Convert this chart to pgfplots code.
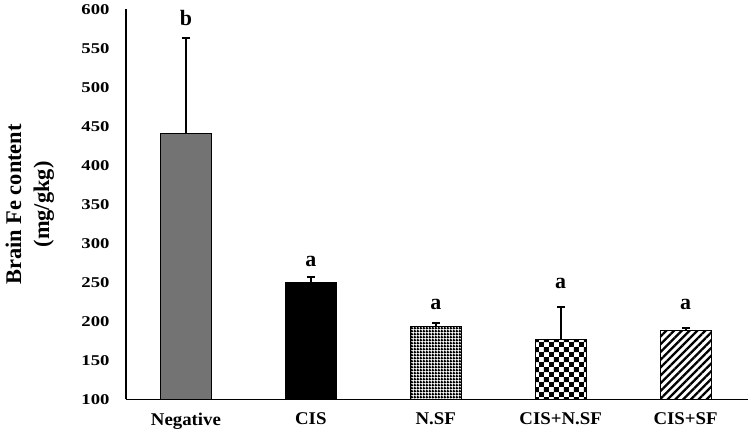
\documentclass[border=0pt]{standalone}
\usepackage{fontspec}
\setmainfont{Liberation Serif}
\newfontface\ytf{Liberation Serif Bold}[FakeStretch=1.25]
\newfontface\xtf{Liberation Serif Bold}[FakeStretch=1.05]
\newfontface\lbf{Liberation Serif Bold}
\usepackage{pgfplots}
\pgfplotsset{compat=1.18}
\usetikzlibrary{patterns,patterns.meta}
\definecolor{bargray}{RGB}{115,115,115}

\pgfdeclarepatternformonly{finecheck}{\pgfpointorigin}{\pgfpoint{2.6bp}{2.6bp}}{\pgfpoint{2.6bp}{2.6bp}}{%
  \pgfpathrectangle{\pgfpointorigin}{\pgfpoint{2.6bp}{1.5bp}}%
  \pgfpathrectangle{\pgfpoint{0bp}{1.5bp}}{\pgfpoint{1.5bp}{1.1bp}}%
  \pgfusepath{fill}}
\pgfdeclarepatternformonly{coarsecheck}{\pgfpointorigin}{\pgfpoint{10bp}{10bp}}{\pgfpoint{10bp}{10bp}}{%
  \pgfpathrectangle{\pgfpointorigin}{\pgfpoint{5bp}{5bp}}%
  \pgfpathrectangle{\pgfpoint{5bp}{5bp}}{\pgfpoint{5bp}{5bp}}%
  \pgfusepath{fill}}

\begin{document}
\begin{tikzpicture}
\begin{axis}[name=ax, scale only axis, width=622bp, height=390bp,
  xmin=-0.48, xmax=4.5, ymin=100, ymax=600,
  axis x line*=bottom, axis y line*=left,
  axis line style={-, line width=1.4bp},
  ytick={100,150,...,600},
  xtick={0,1,2,3,4},
  xticklabels={Negative,CIS,N.SF,CIS+N.SF,CIS+SF},
  major tick length=0pt,
  /pgf/number format/assume math mode=true,
  yticklabel style={font=\fontsize{15}{17}\ytf, xshift=-13bp},
  xticklabel style={font=\fontsize{18}{21}\xtf, yshift=-10bp},
  ylabel={Brain Fe content\\(mg/gkg)},
  ylabel style={font=\fontsize{22.5}{28}\lbf, align=center,
    at={(axis description cs:-0.110,0.5)}, anchor=south},
  ybar, bar width=51bp, bar shift=0pt,
  every axis plot/.append style={draw=black, line width=1bp},
  error bars/y dir=plus, error bars/y explicit,
  error bars/error bar style={line width=2bp, black},
  error bars/error mark options={rotate=90, line width=2bp, mark size=4bp, black},
  clip=false,
]
\addplot[fill=bargray] coordinates {(0,441) +- (0,122)};
\addplot[fill=black] coordinates {(1,250) +- (0,7)};
\addplot[pattern=finecheck] coordinates {(2,194) +- (0,4.5)};
\addplot[pattern=coarsecheck] coordinates {(3,177) +- (0,41)};
\addplot[pattern={Lines[angle=45,distance=5.5bp,line width=2.3bp]}] coordinates {(4,188) +- (0,4)};
\node[font=\fontsize{22}{24}\lbf, anchor=base] at (axis cs:0,579) {b};
\node[font=\fontsize{22}{24}\lbf, anchor=base] at (axis cs:1,270) {a};
\node[font=\fontsize{22}{24}\lbf, anchor=base] at (axis cs:2,216) {a};
\node[font=\fontsize{22}{24}\lbf, anchor=base] at (axis cs:3,242) {a};
\node[font=\fontsize{22}{24}\lbf, anchor=base] at (axis cs:4,216) {a};
\end{axis}
\pgfresetboundingbox
\path ([shift={(-126bp,-37.5bp)}]ax.south west) rectangle ([shift={(1bp,9.5bp)}]ax.north east);
\end{tikzpicture}
\end{document}
